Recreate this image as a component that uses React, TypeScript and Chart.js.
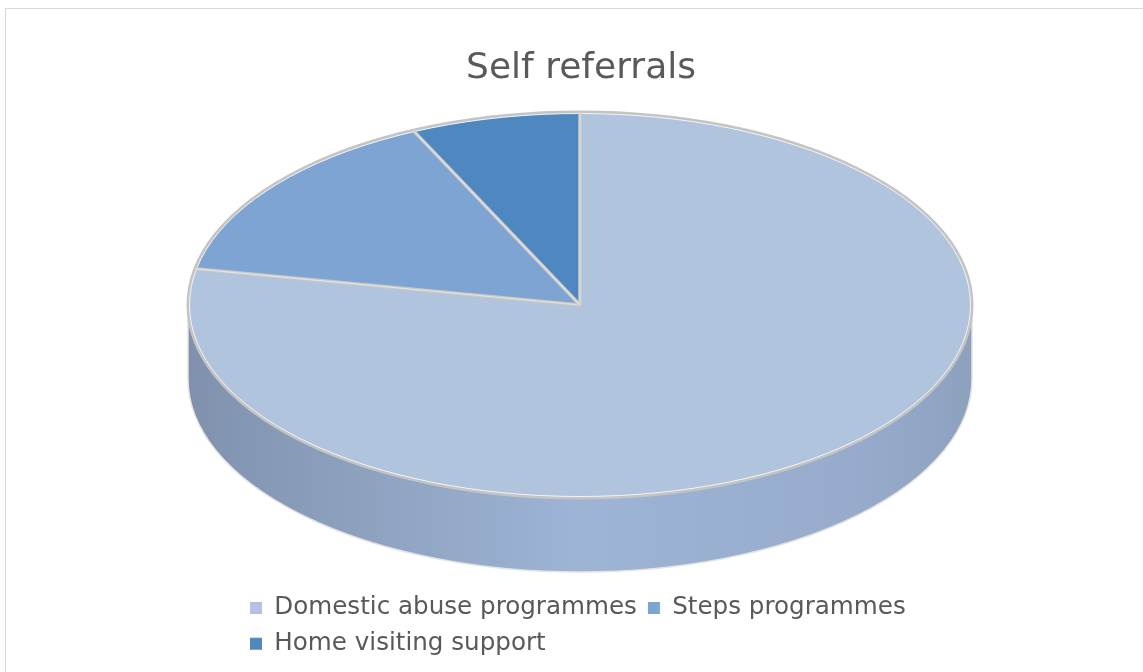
import React, { useEffect, useRef } from 'react';
import { Chart, registerables } from 'chart.js';

Chart.register(...registerables);

const titleText = 'Self referrals';
const categories = ['Domestic abuse programmes', 'Steps programmes', 'Home visiting support'];
const values = [78, 15, 7];
const sliceColors = ['#B0C4DE', '#7DA4D3', '#4F88C0'];

function shade(hex: string, f: number): string {
  const n = parseInt(hex.slice(1), 16);
  const r = Math.round(((n >> 16) & 255) * f);
  const g = Math.round(((n >> 8) & 255) * (f + 0.02));
  const b = Math.round(Math.min(255, (n & 255) * (f + 0.06)));
  return `rgb(${r},${g},${b})`;
}

const pie3d = {
  id: 'pie3d',
  afterLayout(chart: any, _args: any, opts: any) {
    const tb = chart.titleBlock;
    if (tb && opts.titleShift) {
      tb.left += opts.titleShift;
      tb.right += opts.titleShift;
    }
  },
  beforeDatasetsDraw(chart: any, _args: any, opts: any) {
    const meta = chart.getDatasetMeta(0);
    const arcs = meta.data;
    if (!arcs.length) return;
    const ctx = chart.ctx as CanvasRenderingContext2D;
    const { cx, cy, rx, ry, depth } = opts;
    // side walls (front half only)
    ctx.save();
    arcs.forEach((arc: any, i: number) => {
      const p = arc.getProps(['startAngle', 'endAngle'], true);
      for (const [lo, hi] of [[0, Math.PI], [2 * Math.PI, 3 * Math.PI]]) {
        const s = Math.max(p.startAngle, lo);
        const e = Math.min(p.endAngle, hi);
        if (e > s) {
          ctx.beginPath();
          ctx.ellipse(cx, cy, rx, ry, 0, s, e);
          ctx.ellipse(cx, cy + depth, rx, ry, 0, e, s, true);
          ctx.closePath();
          const g = ctx.createLinearGradient(cx - rx, 0, cx + rx, 0);
          const c = sliceColors[i];
          g.addColorStop(0, shade(c, 0.72));
          g.addColorStop(0.15, shade(c, 0.78));
          g.addColorStop(0.5, shade(c, 0.9));
          g.addColorStop(0.85, shade(c, 0.86));
          g.addColorStop(1, shade(c, 0.8));
          ctx.fillStyle = g;
          ctx.fill();
        }
      }
    });
    // side outlines
    ctx.strokeStyle = '#E4E4E4';
    ctx.lineWidth = 1.5;
    ctx.beginPath();
    ctx.ellipse(cx, cy + depth, rx, ry, 0, 0, Math.PI);
    ctx.stroke();
    ctx.beginPath();
    ctx.moveTo(cx - rx, cy);
    ctx.lineTo(cx - rx, cy + depth);
    ctx.moveTo(cx + rx, cy);
    ctx.lineTo(cx + rx, cy + depth);
    ctx.stroke();
    ctx.restore();

    // project the library's circular pie onto the tilted top face
    const a0 = arcs[0].getProps(['x', 'y', 'outerRadius'], true);
    ctx.save();
    ctx.translate(cx, cy);
    ctx.scale(rx / a0.outerRadius, ry / a0.outerRadius);
    ctx.translate(-a0.x, -a0.y);
  },
  afterDatasetsDraw(chart: any, _args: any, opts: any) {
    const ctx = chart.ctx as CanvasRenderingContext2D;
    ctx.restore();
    const meta = chart.getDatasetMeta(0);
    const arcs = meta.data;
    if (!arcs.length) return;
    const { cx, cy, rx, ry } = opts;
    ctx.save();
    // rim
    ctx.strokeStyle = '#C4C4C4';
    ctx.lineWidth = 3;
    ctx.beginPath();
    ctx.ellipse(cx, cy, rx, ry, 0, 0, Math.PI * 2);
    ctx.stroke();
    ctx.strokeStyle = '#F4F4F4';
    ctx.lineWidth = 1;
    ctx.beginPath();
    ctx.ellipse(cx, cy, rx - 1.5, ry - 1.5, 0, 0, Math.PI * 2);
    ctx.stroke();
    // separators
    arcs.forEach((arc: any) => {
      const p = arc.getProps(['startAngle'], true);
      const x2 = cx + rx * Math.cos(p.startAngle);
      const y2 = cy + ry * Math.sin(p.startAngle);
      ctx.strokeStyle = '#C8C8C8';
      ctx.lineWidth = 3.5;
      ctx.beginPath();
      ctx.moveTo(cx, cy);
      ctx.lineTo(x2, y2);
      ctx.stroke();
      ctx.strokeStyle = '#E2E2E2';
      ctx.lineWidth = 1.2;
      ctx.beginPath();
      ctx.moveTo(cx, cy);
      ctx.lineTo(x2, y2);
      ctx.stroke();
    });
    ctx.restore();
  },
};

export default function App() {
  const ref = useRef<HTMLCanvasElement | null>(null);
  useEffect(() => {
    if (!ref.current) return;
    const chart = new Chart(ref.current, {
      type: 'pie',
      data: {
        labels: categories,
        datasets: [
          {
            data: values,
            backgroundColor: sliceColors,
            borderWidth: 0,
            hoverOffset: 0,
            clip: false as any,
          },
        ],
      },
      options: {
        responsive: false,
        animation: false,
        layout: { padding: { top: 22, left: 239, right: 204, bottom: 6 } },
        plugins: {
          tooltip: { enabled: false },
          title: {
            display: true,
            text: titleText,
            color: '#595959',
            font: { family: "'DejaVu Sans', sans-serif", size: 36, weight: 'normal' },
            padding: { top: 25, bottom: 10 },
          },
          legend: {
            position: 'bottom',
            align: 'start',
            labels: {
              color: '#595959',
              font: { family: "'DejaVu Sans', sans-serif", size: 24.6 },
              boxWidth: 12,
              boxHeight: 12,
              padding: 11,
            },
          },
          pie3d: { cx: 580, cy: 305, rx: 392, ry: 193, depth: 74, titleShift: -8 },
        } as any,
      },
      plugins: [pie3d],
    });
    return () => chart.destroy();
  }, []);
  return (
    <div style={{ position: 'fixed', inset: 0, overflow: 'hidden', background: '#fff' }}>
      <div
        style={{
          position: 'absolute',
          left: 5,
          top: 8,
          width: 1160,
          height: 700,
          border: '1px solid #D9D9D9',
          boxSizing: 'border-box',
        }}
      />
      <canvas
        ref={ref}
        width={1143}
        height={672}
        style={{ position: 'absolute', left: 0, top: 0, display: 'block' }}
      />
    </div>
  );
}
